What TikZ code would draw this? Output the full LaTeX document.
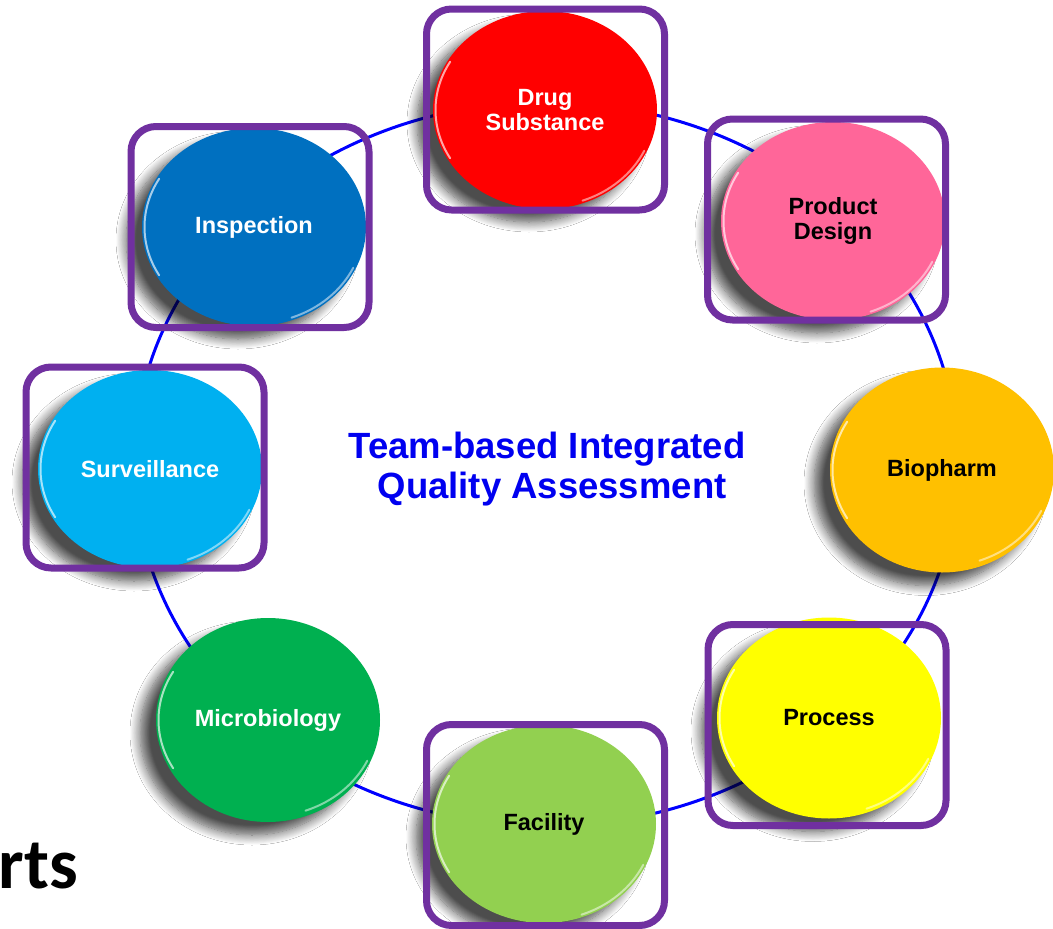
\documentclass[tikz,border=0pt]{standalone}
\usepackage{fontspec}
\setmainfont{Liberation Sans}
\newfontfamily\calibfont{Carlito}
\usetikzlibrary{shapes.geometric,shadows.blur}
\definecolor{ringblue}{RGB}{0,0,255}
\definecolor{framepurple}{RGB}{112,48,160}
\definecolor{cDS}{RGB}{255,0,0}
\definecolor{cPD}{RGB}{255,102,153}
\definecolor{cBP}{RGB}{255,192,0}
\definecolor{cPR}{RGB}{255,255,0}
\definecolor{cFA}{RGB}{146,208,80}
\definecolor{cMB}{RGB}{0,176,80}
\definecolor{cSV}{RGB}{0,176,240}
\definecolor{cIN}{RGB}{0,112,192}
\definecolor{titleblue}{RGB}{0,0,240}
\begin{document}
\begin{tikzpicture}[x=1pt,y=-1pt,
  bubble/.style={ellipse, inner sep=0pt, minimum width=224pt, minimum height=198pt,
    align=center, font=\bfseries\fontsize{23.5}{25.5}\selectfont,
    blur shadow={shadow xshift=-16pt, shadow yshift=-13pt, shadow blur radius=10pt, shadow blur steps=12, shadow opacity=70}},
  frame/.style={draw=framepurple, line width=7pt, rounded corners=25pt, rectangle,
    minimum width=238pt, minimum height=201pt, inner sep=0pt},
  shine/.style={white, line width=2pt, opacity=0.65, line cap=round},
]
\useasboundingbox[fill=white] (0,0) rectangle (1053,929);

% ring
\draw[ringblue, line width=3pt] (546,464) ellipse[x radius=412, y radius=362];

% bubbles
\node[bubble, fill=cDS, text=white] (DS) at (545,110) {Drug\\Substance};
\node[bubble, fill=cPD, text=black] (PD) at (833,221) {Product\\Design};
\node[bubble, fill=cBP, text=black, minimum height=205pt] (BP) at (942,470) {Biopharm};
\node[bubble, fill=cPR, text=black, minimum height=201pt] (PR) at (829,718) {Process};
\node[bubble, fill=cFA, text=black] (FA) at (544,824) {Facility};
\node[bubble, fill=cMB, text=white, minimum height=204pt] (MB) at (268,720) {Microbiology};
\node[bubble, fill=cSV, text=white] (SV) at (150,469) {Surveillance};
\node[bubble, fill=cIN, text=white] (IN) at (254,227) {Inspection};

% glossy rims
\foreach \n in {DS,PD,BP,PR,FA,MB,SV,IN}{
  \draw[shine, shift={(\n.center)}] (150:109.5 and 96.5) arc[start angle=150, end angle=210, x radius=109.5, y radius=96.5];
  \draw[shine, shift={(\n.center)}, opacity=0.5] (25:109.5 and 96.5) arc[start angle=25, end angle=70, x radius=109.5, y radius=96.5];
}

% frames
\node[frame] (fDS) at (545.5,109.5) {};
\node[frame] (fPD) at (826.5,219.5) {};
\node[frame] (fPR) at (827,725) {};
\node[frame] (fFA) at (545.5,825) {};
\node[frame] (fSV) at (145,467.5) {};
\node[frame] (fIN) at (250,227) {};

% title
\node[text=titleblue, font=\bfseries\fontsize{36.5}{40}\selectfont, align=center, inner sep=0pt]
  (title) at (547,469) {Team-based Integrated\\\ Quality Assessment};

% cut-off word
\node[anchor=base east, inner sep=0pt, font=\calibfont\bfseries\fontsize{72}{80}\selectfont] (rts) at (78,888) {rts};
\end{tikzpicture}
\end{document}
